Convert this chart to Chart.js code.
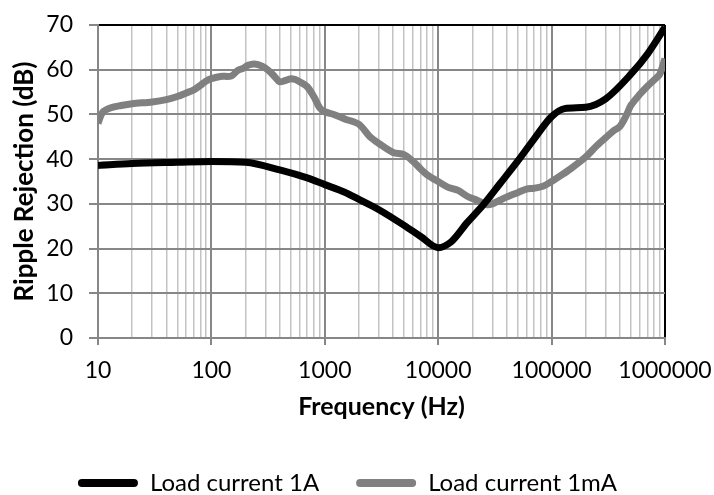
<!DOCTYPE html>
<html>
<head>
<meta charset="utf-8">
<script src="https://cdn.jsdelivr.net/npm/chart.js@4"></script>
<style>
  html, body { margin: 0; padding: 0; background: #fff; }
  #wrap { width: 714px; height: 495px; }
</style>
</head>
<body>
<div id="wrap"><canvas id="rippleChart"></canvas></div>
<script>
// Ripple rejection vs frequency, two load currents
const freq1A = [10, 20, 50, 100, 200, 400, 700, 1000, 1500, 2000, 3000, 5000, 7000, 10000, 13000, 18000, 25000, 35000, 50000, 70000, 100000, 130000, 200000, 300000, 500000, 700000, 1000000];
const rej1A = [38.6, 39.0, 39.3, 39.5, 39.3, 37.6, 35.8, 34.3, 32.6, 31.0, 28.7, 25.2, 22.7, 20.2, 21.5, 25.8, 29.8, 34.5, 39.5, 44.5, 49.5, 51.3, 51.6, 53.5, 59.0, 63.5, 69.5];

const freq1mA = [10, 11, 13, 16, 20, 30, 40, 50, 60, 70, 80, 90, 100, 120, 150, 170, 190, 210, 240, 280, 320, 360, 400, 450, 500, 550, 600, 700, 800, 900, 1000, 1200, 1500, 2000, 2500, 3000, 4000, 5000, 6000, 7000, 8000, 10000, 12000, 15000, 18000, 22000, 27000, 30000, 35000, 40000, 50000, 60000, 70000, 85000, 100000, 120000, 150000, 200000, 250000, 300000, 350000, 400000, 450000, 500000, 600000, 700000, 850000, 900000, 1000000];
const rej1mA = [48, 50.5, 51.5, 52, 52.4, 52.8, 53.3, 54, 54.8, 55.5, 56.5, 57.5, 58, 58.5, 58.6, 59.8, 60.3, 61, 61.3, 60.8, 59.8, 58.5, 57.3, 57.6, 58, 57.8, 57.3, 56.2, 54, 51.5, 50.6, 50, 49, 47.8, 45, 43.5, 41.5, 41, 39.5, 37.8, 36.5, 35, 33.8, 33, 31.7, 30.8, 29.8, 30, 30.8, 31.5, 32.5, 33.3, 33.5, 34, 35, 36.3, 38, 40.5, 43, 44.8, 46.3, 47.3, 49.5, 52, 54.5, 56.3, 58.3, 59, 62.5];

const seriesNames = ['Load current 1A', 'Load current 1mA'];
const yTicks = [0, 10, 20, 30, 40, 50, 60, 70];

// grid positions on the log axis: 1..9 x each decade
const decades = [10, 100, 1000, 10000, 100000];
const gridFreqs = [];
decades.forEach(d => { for (let k = 1; k < 10; k++) gridFreqs.push(d * k); });
gridFreqs.push(1000000);

const isDecade = v => Math.abs(Math.log10(v) - Math.round(Math.log10(v))) < 1e-9;

const gridGray = '#878787';
const minorGray = '#c3c3c3';
const font = 'Lato, "Open Sans", sans-serif';

const toPoints = (xs, ys) => xs.map((x, i) => ({ x: x, y: ys[i] }));

const ctx = document.getElementById('rippleChart');
new Chart(ctx, {
    type: 'line',
    data: {
        datasets: [{
            label: seriesNames[0],
            data: toPoints(freq1A, rej1A),
            borderColor: '#000000',
            backgroundColor: '#000000',
            borderWidth: 7,
            pointRadius: 0,
            tension: 0.4,
            cubicInterpolationMode: 'monotone'
        }, {
            label: seriesNames[1],
            data: toPoints(freq1mA, rej1mA),
            borderColor: '#808080',
            backgroundColor: '#808080',
            borderWidth: 7,
            pointRadius: 0,
            tension: 0.3
        }]
    },
    options: {
        responsive: true,
        maintainAspectRatio: false,
        animation: false,
        layout: {
            padding: { top: 25, right: 49, left: 30, bottom: -10 }
        },
        plugins: {
            legend: {
                position: 'bottom',
                labels: {
                    font: { family: font, size: 24, lineHeight: 1 },
                    color: '#000',
                    boxWidth: 60,
                    boxHeight: 8,
                    useBorderRadius: true,
                    borderRadius: 4,
                    padding: 37,
                    generateLabels: chart => Chart.defaults.plugins.legend.labels.generateLabels(chart)
                        .map(item => Object.assign(item, { lineWidth: 0 }))
                }
            },
            tooltip: { enabled: false }
        },
        scales: {
            x: {
                type: 'logarithmic',
                min: 10,
                max: 1000000,
                afterFit: scale => {
                    scale.height = 96;
                    scale.paddingLeft = 0;
                    scale.paddingRight = 0;
                },
                afterBuildTicks: scale => {
                    scale.ticks = gridFreqs.map(v => ({ value: v, major: isDecade(v) }));
                },
                ticks: {
                    autoSkip: false,
                    maxRotation: 0,
                    padding: 12,
                    color: '#000',
                    font: { family: font, size: 23 },
                    callback: v => isDecade(v) ? String(v) : ''
                },
                grid: {
                    color: c => c.tick && c.tick.value === 1000000 ? '#000' : (c.tick && isDecade(c.tick.value) ? gridGray : minorGray),
                    lineWidth: c => c.tick && isDecade(c.tick.value) ? 2 : 1.5,
                    tickColor: c => c.tick && isDecade(c.tick.value) ? gridGray : 'rgba(0,0,0,0)',
                    tickLength: 7
                },
                border: { color: gridGray, width: 2 },
                title: {
                    display: true,
                    text: 'Frequency (Hz)',
                    color: '#000',
                    font: { family: font, size: 25, weight: 'bold' },
                    padding: { top: 0, bottom: 12 }
                }
            },
            y: {
                min: 0,
                max: 70,
                afterFit: scale => {
                    scale.width = 68;
                    scale.paddingTop = 0;
                    scale.paddingBottom = 0;
                },
                afterBuildTicks: scale => {
                    scale.ticks = yTicks.map(v => ({ value: v }));
                },
                ticks: {
                    padding: 16,
                    color: '#000',
                    font: { family: font, size: 23 }
                },
                grid: {
                    color: c => c.tick && c.tick.value === 70 ? '#000' : gridGray,
                    lineWidth: 2,
                    tickColor: gridGray,
                    tickLength: 9
                },
                border: { color: gridGray, width: 2 },
                title: {
                    display: true,
                    text: 'Ripple Rejection (dB)',
                    color: '#000',
                    font: { family: font, size: 26, weight: 'bold' },
                    padding: { top: -21, bottom: 0 }
                }
            }
        }
    }
});
</script>
</body>
</html>
